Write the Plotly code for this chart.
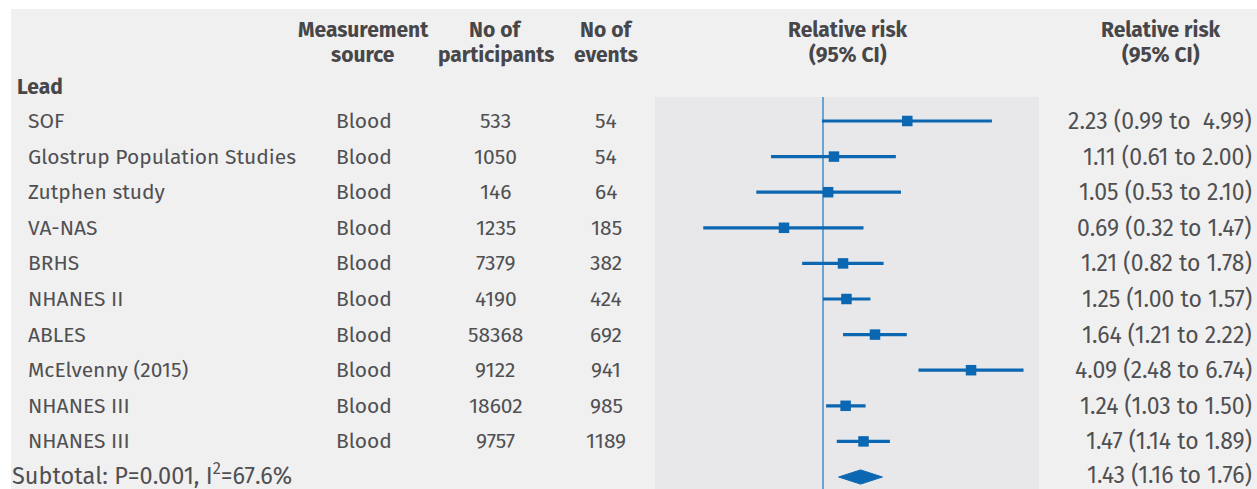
import plotly.graph_objects as go

# Study data
studies = ["SOF", "Glostrup Population Studies", "Zutphen study", "VA-NAS", "BRHS",
           "NHANES II", "ABLES", "McElvenny (2015)", "NHANES III", "NHANES III"]
source = ["Blood"] * 10
participants = [533, 1050, 146, 1235, 7379, 4190, 58368, 9122, 18602, 9757]
events = [54, 54, 64, 185, 382, 424, 692, 941, 985, 1189]
rr = [2.23, 1.11, 1.05, 0.69, 1.21, 1.25, 1.64, 4.09, 1.24, 1.47]
rr_lo = [0.99, 0.61, 0.53, 0.32, 0.82, 1.00, 1.21, 2.48, 1.03, 1.14]
rr_hi = [4.99, 2.00, 2.10, 1.47, 1.78, 1.57, 2.22, 6.74, 1.50, 1.89]

# Pooled estimate
sub_rr, sub_lo, sub_hi = 1.43, 1.16, 1.76
sub_label = "Subtotal: P=0.001, I<sup>2</sup>=67.6%"

W, H = 1257, 489
BLUE = "#0b67b2"
TXT = "#505052"
HDR = "#47474a"
FONT = "Fira Sans, Lato, Open Sans, sans-serif"

def px(x):
    return x / W

rows = list(range(len(studies)))
sub_row = len(studies)

fig = go.Figure()

# Confidence interval lines
xs, ys = [], []
for i in rows:
    xs += [rr_lo[i], rr_hi[i], None]
    ys += [i, i, None]
fig.add_trace(go.Scatter(x=xs, y=ys, mode="lines",
                         line=dict(color=BLUE, width=3.2), hoverinfo="skip"))

# Point estimates
fig.add_trace(go.Scatter(x=rr, y=rows, mode="markers",
                         marker=dict(symbol="square", size=10.5, color=BLUE),
                         hoverinfo="skip"))

# Pooled diamond
dh = 0.2
fig.add_trace(go.Scatter(x=[sub_lo, sub_rr, sub_hi, sub_rr, sub_lo],
                         y=[sub_row, sub_row - dh, sub_row, sub_row + dh, sub_row],
                         mode="lines", fill="toself", fillcolor=BLUE,
                         line=dict(color=BLUE, width=1), hoverinfo="skip"))

shapes = [
    # page background
    dict(type="rect", xref="paper", yref="paper", x0=px(11), x1=1, y0=0, y1=1 - 9 / H,
         fillcolor="#f0f0f1", line=dict(width=0), layer="below"),
    # forest panel
    dict(type="rect", xref="paper", yref="y", x0=px(655), x1=px(1039), y0=-0.674, y1=10.4,
         fillcolor="#e8e8ea", line=dict(width=0), layer="below"),
    # line of no effect
    dict(type="line", xref="x", yref="y", x0=1, x1=1, y0=-0.674, y1=10.4,
         line=dict(color="#3a86c6", width=1.4), layer="below"),
]

ann = []
def text(x, y, s, anchor="left", bold=False, size=21, color=TXT, yref="y"):
    ann.append(dict(x=px(x), y=y, xref="paper", yref=yref, text=f"<b>{s}</b>" if bold else s,
                    showarrow=False, xanchor=anchor, yanchor="middle",
                    font=dict(family=FONT, size=size, color=color)))

def ci_text(est, lo, hi):
    gap = "\u00a0" if f"{hi:.2f}" == "4.99" else ""
    return f"{est:.2f} ({lo:.2f} to {gap}{hi:.2f})"

# header rows (expressed in row units)
h1, h2 = -2.55, -1.85
for x, l1, l2 in [(363, "Measurement", "source"), (496, "No of", "participants"),
                  (606, "No of", "events"), (848, "Relative risk", "(95% CI)"),
                  (1161, "Relative risk", "(95% CI)")]:
    text(x, h1, l1, "center", True, 21, HDR)
    text(x, h2, l2, "center", True, 21, HDR)
text(15, -0.96, "Lead", "left", True, 21, HDR)

for i in rows:
    text(26, i, studies[i])
    text(334, i, source[i])
    text(496, i, str(participants[i]), "center")
    text(606, i, str(events[i]), "center")
    text(1254, i, ci_text(rr[i], rr_lo[i], rr_hi[i]), "right", size=23)
text(10, sub_row - 0.08, sub_label, size=23.5)
text(1254, sub_row - 0.05, ci_text(sub_rr, sub_lo, sub_hi), "right", size=23)

ppd = 242.0  # pixels per decade
x_lo = -(823 - 655) / ppd
x_hi = (1039 - 823) / ppd

fig.update_layout(
    width=W, height=H,
    margin=dict(l=0, r=0, t=0, b=0),
    paper_bgcolor="white", plot_bgcolor="rgba(0,0,0,0)",
    showlegend=False,
    shapes=shapes, annotations=ann,
    xaxis=dict(type="log", domain=[px(655), px(1039)], range=[x_lo, x_hi],
               visible=False, fixedrange=True),
    yaxis=dict(range=[(H - 121) / 35.6, -121 / 35.6], domain=[0, 1],
               visible=False, fixedrange=True),
)

fig.write_html("out.html", config={"displayModeBar": False})
